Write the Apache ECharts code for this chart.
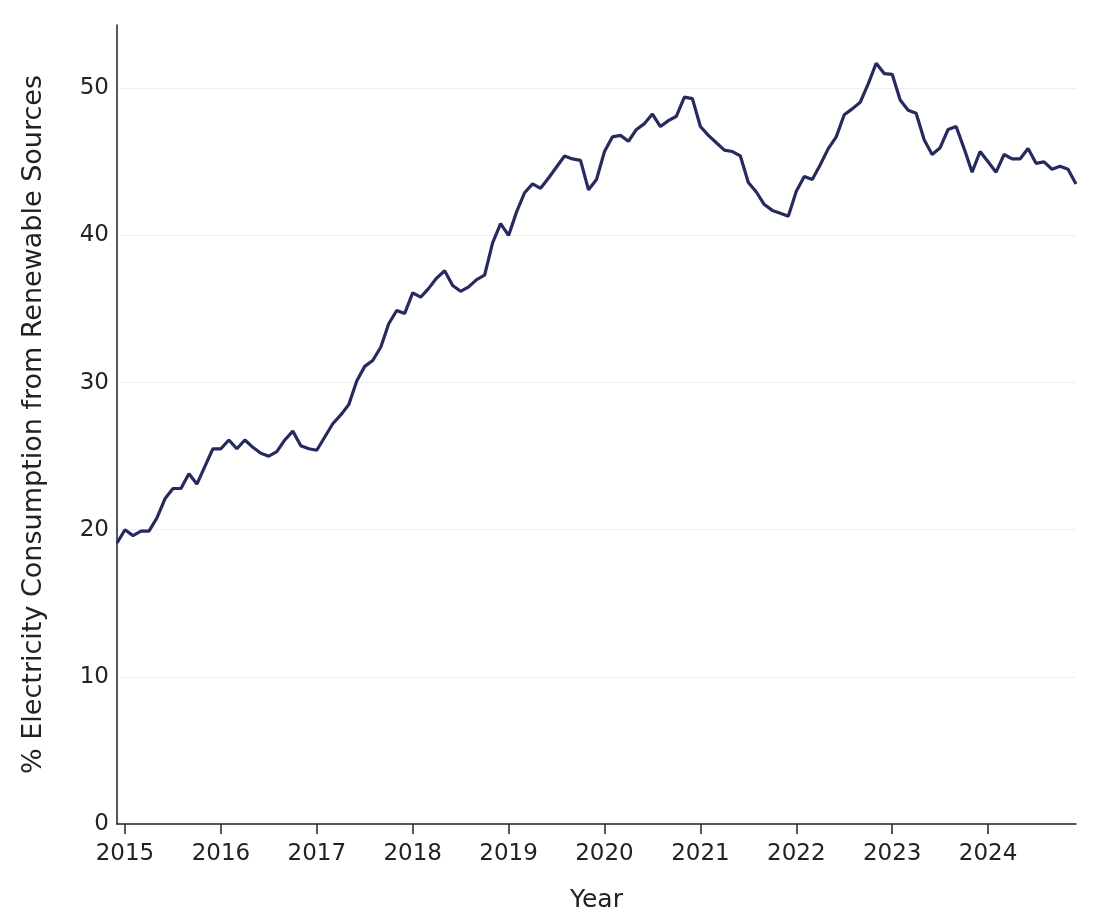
<!DOCTYPE html>
<html>
<head>
<meta charset="utf-8">
<script src="https://cdn.jsdelivr.net/npm/echarts@6/dist/echarts.min.js"></script>
<style>html,body{margin:0;padding:0;background:#fff}#c{width:1093px;height:916px}</style>
</head>
<body>
<div id="c"></div>
<script>
// Monthly series, Dec 2014 .. Dec 2024
var startYear = 2014;
var startMonth = 12;
var values = [
  19.1, 20.0, 19.6, 19.9, 19.9, 20.8, 22.1, 22.8, 22.8, 23.8, 23.1, 24.3,
  25.5, 25.5, 26.1, 25.5, 26.1, 25.6, 25.2, 25.0, 25.3, 26.1, 26.7, 25.7,
  25.5, 25.4, 26.3, 27.2, 27.8, 28.5, 30.1, 31.1, 31.5, 32.4, 34.0, 34.9,
  34.7, 36.1, 35.8, 36.4, 37.1, 37.6, 36.6, 36.2, 36.5, 37.0, 37.3, 39.5,
  40.8, 40.0, 41.6, 42.9, 43.5, 43.2, 43.9, 44.65, 45.4, 45.2, 45.1, 43.1,
  43.8, 45.7, 46.7, 46.8, 46.4, 47.2, 47.6, 48.25, 47.4, 47.8, 48.1, 49.4,
  49.3, 47.4, 46.8, 46.3, 45.8, 45.7, 45.4, 43.6, 42.95, 42.1, 41.7, 41.5,
  41.3, 43.0, 44.0, 43.8, 44.8, 45.9, 46.7, 48.2, 48.6, 49.05, 50.3, 51.7,
  51.0, 50.95, 49.2, 48.5, 48.3, 46.5, 45.5, 45.96, 47.2, 47.4, 45.9, 44.3,
  45.7, 45.0, 44.3, 45.5, 45.2, 45.2, 45.9, 44.9, 45.0, 44.5, 44.7, 44.5,
  43.5
];
var yearTicks = [2015, 2016, 2017, 2018, 2019, 2020, 2021, 2022, 2023, 2024];
var yTicks = [0, 10, 20, 30, 40, 50];

var data = values.map(function (v, i) {
  return [startYear + (startMonth - 1 + i) / 12, v];
});
var xMin = data[0][0];
var xMax = data[data.length - 1][0];

var font = 'DejaVu Sans';
var chart = echarts.init(document.getElementById('c'));
chart.setOption({
  animation: false,
  backgroundColor: '#ffffff',
  grid: { left: 117, right: 17, top: 25, bottom: 92, containLabel: false, outerBoundsMode: 'none' },
  xAxis: {
    type: 'value',
    min: xMin,
    max: xMax,
    name: 'Year',
    nameLocation: 'middle',
    nameGap: 64,
    nameTextStyle: { fontFamily: font, fontSize: 25, color: '#222' },
    axisLine: { show: true, lineStyle: { color: '#222', width: 1.5 } },
    axisTick: { show: true, customValues: yearTicks, length: 10, lineStyle: { color: '#222', width: 1.5 } },
    axisLabel: { customValues: yearTicks, fontFamily: font, fontSize: 23, color: '#222', margin: 19,
      formatter: function (v) { return String(Math.round(v)); } },
    splitLine: { show: false }
  },
  yAxis: {
    type: 'value',
    min: 0,
    max: 54.3,
    interval: 10,
    name: '% Electricity Consumption from Renewable Sources',
    nameLocation: 'middle',
    nameGap: 70,
    nameTextStyle: { fontFamily: font, fontSize: 27, color: '#222' },
    axisLine: { show: true, lineStyle: { color: '#222', width: 1.5 } },
    axisTick: { show: false },
    axisLabel: { fontFamily: font, fontSize: 23, color: '#222', margin: 8, showMaxLabel: false },
    splitLine: { show: true, showMinLine: false, showMaxLine: false, lineStyle: { color: '#efefef', width: 1 } }
  },
  series: [{
    type: 'line',
    data: data,
    showSymbol: false,
    symbol: 'none',
    lineStyle: { color: '#262a5e', width: 3.2 },
    itemStyle: { color: '#262a5e' }
  }]
});
</script>
</body>
</html>
